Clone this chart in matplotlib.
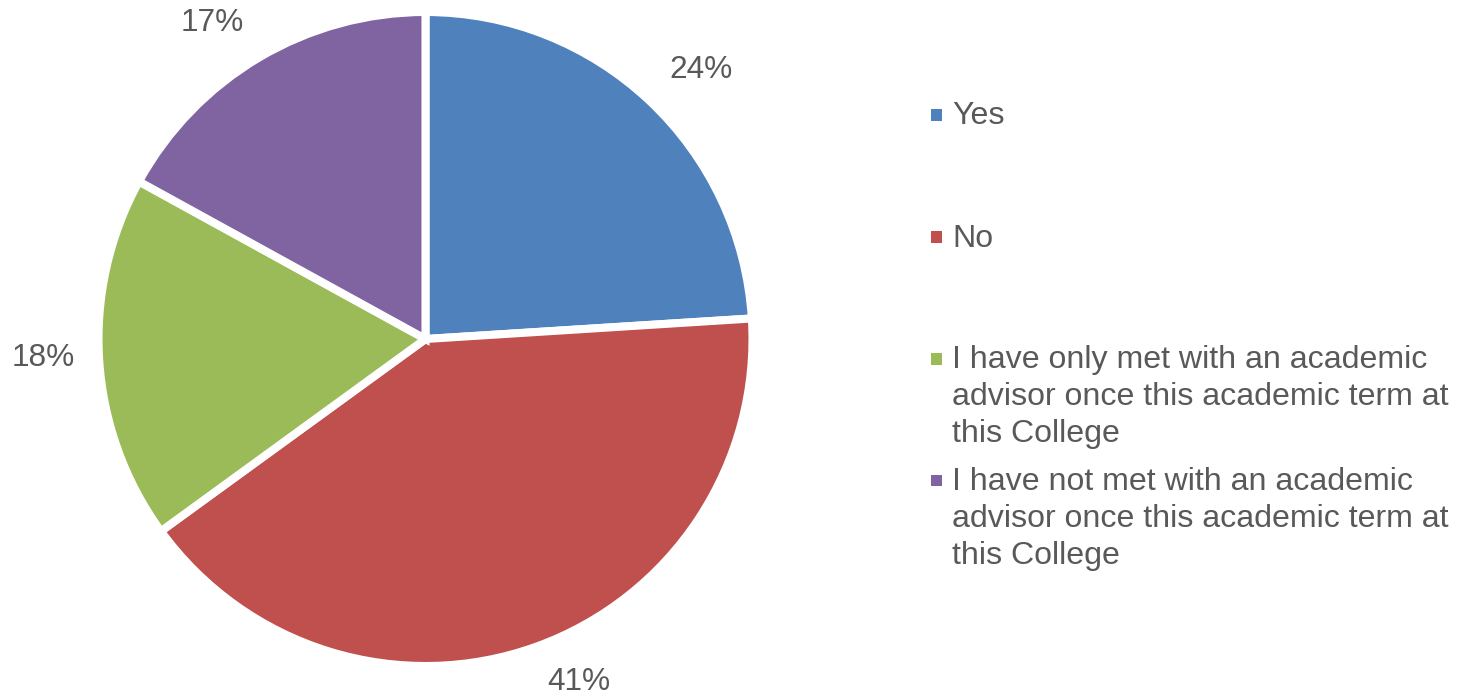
import textwrap
import numpy as np
import matplotlib
matplotlib.use("Agg")
import matplotlib.pyplot as plt
from matplotlib.patches import Rectangle

# Survey responses: met with an academic advisor this term?
categories = [
    "Yes",
    "No",
    "I have only met with an academic advisor once this academic term at this College",
    "I have not met with an academic advisor once this academic term at this College",
]
shares = [24, 41, 18, 17]
colors = ["#4F81BD", "#C0504D", "#9BBB59", "#8064A2"]

TEXT_COLOR = "#595959"
FONT = "Liberation Sans"
FS_LABEL = 22.8
FS_LEGEND = 23.1

W, H, DPI = 1459, 696, 100
CX, CY, R = 425.5, 339.0, 327.0   # pie centre and radius in pixels (y from top)

fig = plt.figure(figsize=(W / DPI, H / DPI), dpi=DPI)
ax = fig.add_axes([0, 0, 1, 1])

wedges, _ = ax.pie(
    shares,
    colors=colors,
    startangle=90,
    counterclock=False,
    radius=1.0,
    wedgeprops=dict(edgecolor="white", linewidth=5.8),
)

# axes span the whole figure, one data unit == R pixels
ax.set_xlim(-CX / R, (W - CX) / R)
ax.set_ylim(-(H - CY) / R, CY / R)
ax.set_aspect("auto")
ax.axis("off")


def px(x, y):
    """Figure pixel position (y from top) -> data coordinates."""
    return (x - CX) / R, (CY - y) / R


# percentage labels just outside each wedge
label_radius = [1.177, 1.150, 1.171, 1.165]
label_turn = [-2.5, 4.3, -0.8, 3.4]
for w, v, rr, dt in zip(wedges, shares, label_radius, label_turn):
    ang = np.deg2rad((w.theta1 + w.theta2) / 2 + dt)
    ax.text(rr * np.cos(ang), rr * np.sin(ang), f"{v}%",
            ha="center", va="center", fontsize=FS_LABEL, family=FONT,
            color=TEXT_COLOR)

# legend on the right
first_baselines = [124.3, 246.7, 368.3, 490.0]
line_step = 37.0
text_x = 952.0
box = 11.5
for name, col, base in zip(categories, colors, first_baselines):
    lines = textwrap.wrap(name, width=34)
    for k, line in enumerate(lines):
        ax.text(*px(text_x, base + k * line_step), line, ha="left",
                va="baseline", fontsize=FS_LEGEND, family=FONT,
                color=TEXT_COLOR)
    mx, my = px(930.5, base - 9.5 + box / 2)
    ax.add_patch(Rectangle((mx, my), box / R, box / R, facecolor=col,
                           edgecolor="none", clip_on=False))

fig.savefig("out.png", dpi=DPI, facecolor="white")
